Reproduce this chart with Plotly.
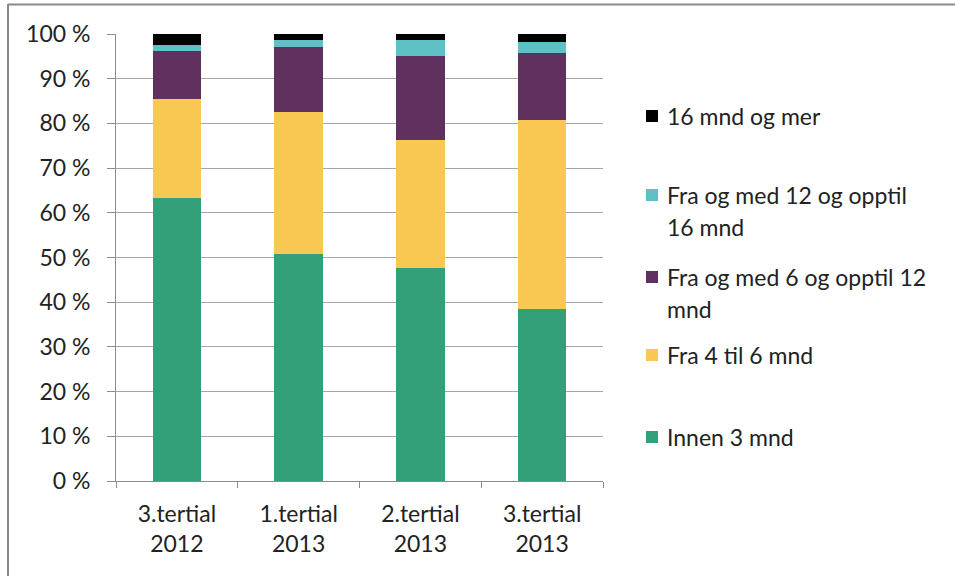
import plotly.graph_objects as go

categories = ["3.tertial<br>2012", "1.tertial<br>2013", "2.tertial<br>2013", "3.tertial<br>2013"]
series_names = ["Innen 3 mnd", "Fra 4 til 6 mnd", "Fra og med 6 og opptil 12 mnd",
                "Fra og med 12 og opptil 16 mnd", "16 mnd og mer"]
innen_3 = [63.3, 50.8, 47.7, 38.5]
fra_4_6 = [22.1, 31.7, 28.6, 42.2]
fra_6_12 = [10.9, 14.7, 18.8, 15.0]
fra_12_16 = [1.2, 1.4, 3.5, 2.6]
mnd_16_plus = [2.5, 1.4, 1.4, 1.7]
y_ticks = [0, 10, 20, 30, 40, 50, 60, 70, 80, 90, 100]
y_tick_labels = [f"{v} %" for v in y_ticks]

values = [innen_3, fra_4_6, fra_6_12, fra_12_16, mnd_16_plus]
colors = ["#33A07A", "#F8C853", "#60305F", "#5FC0C6", "#000000"]
legend_lines = [["Innen 3 mnd"], ["Fra 4 til 6 mnd"], ["Fra og med 6 og opptil 12", "mnd"],
                ["Fra og med 12 og opptil", "16 mnd"], ["16 mnd og mer"]]
# legend pixel positions (y of first text line) -- layout only
legend_y = [437, 355, 277, 195, 116]

FONT = "Lato"
FS = 23
TXT = "#222222"
W, H = 955, 576
L, R, T, B = 116, 352, 34, 95

fig = go.Figure()
for name, vals, col in zip(series_names, values, colors):
    fig.add_trace(go.Bar(x=categories, y=vals, name=name, marker=dict(color=col, line=dict(width=0)),
                         showlegend=False))

def px_x(x):
    return (x - L) / (W - L - R)

def px_y(y):
    return 1 - (y - T) / (H - T - B)

annotations = []
shapes = []
for lines, yc, col in zip(legend_lines, legend_y, colors):
    shapes.append(dict(type="rect", xref="paper", yref="paper",
                       x0=px_x(646), x1=px_x(658), y0=px_y(yc + 6), y1=px_y(yc - 6),
                       fillcolor=col, line=dict(width=0)))
    for i, line in enumerate(lines):
        annotations.append(dict(text=line, xref="paper", yref="paper", x=px_x(665), y=px_y(yc + i * 32),
                                xanchor="left", yanchor="middle", showarrow=False,
                                font=dict(family=FONT, size=FS, color=TXT)))

# outer frame (top and left edges)
shapes.append(dict(type="line", xref="paper", yref="paper", x0=px_x(8), x1=px_x(960),
                   y0=px_y(4.5), y1=px_y(4.5), line=dict(color="#8A8A8A", width=2)))
shapes.append(dict(type="line", xref="paper", yref="paper", x0=px_x(8), x1=px_x(8),
                   y0=px_y(4), y1=px_y(580), line=dict(color="#8A8A8A", width=2)))

fig.update_layout(
    barmode="stack",
    bargap=0.6,
    width=W, height=H,
    margin=dict(l=L, r=R, t=T, b=B),
    paper_bgcolor="white", plot_bgcolor="white",
    font=dict(family=FONT, size=FS, color=TXT),
    annotations=annotations,
    shapes=shapes,
    xaxis=dict(showline=True, linecolor="#8C8C8C", linewidth=1, ticks="outside", tickson="boundaries",
               ticklen=6, tickcolor="#8C8C8C", showgrid=False, ticklabelstandoff=12,
               tickfont=dict(size=FS, color=TXT)),
    yaxis=dict(range=[0, 100], tickmode="array", tickvals=y_ticks, ticktext=y_tick_labels,
               showline=True, linecolor="#8C8C8C",
               linewidth=1, ticks="outside", ticklen=8, tickcolor="#8C8C8C", showgrid=True,
               gridcolor="#A6A6A6", gridwidth=1, zeroline=False, ticklabelstandoff=12,
               tickfont=dict(size=FS, color=TXT)),
)

fig.write_html("out.html", config={"displayModeBar": False},
               post_script="document.body.style.margin='0px';document.body.style.overflow='hidden';")
